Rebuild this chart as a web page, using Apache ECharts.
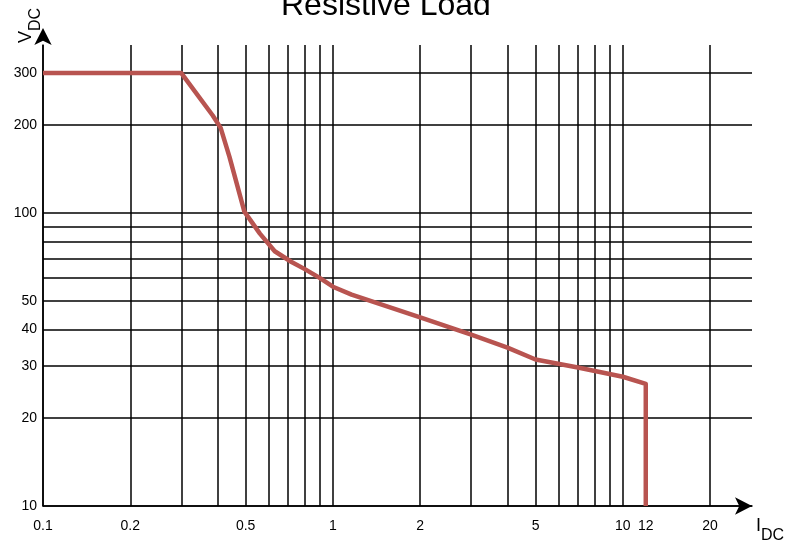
<!DOCTYPE html>
<html><head><meta charset="utf-8">
<script src="https://cdn.jsdelivr.net/npm/echarts@6/dist/echarts.min.js"></script>
<style>html,body{margin:0;padding:0;background:#fff}#c{width:798px;height:547px}</style>
</head><body><div id="c"></div>
<script>
const titleText = 'Resistive Load';
const idc = [0.1, 0.3, 0.385, 0.41, 0.44, 0.495, 0.56, 0.63, 0.72, 0.8, 0.9, 1.0, 1.16, 2, 3, 4, 5, 7, 10, 12, 12];
const vdc = [300, 300, 215, 195, 155, 101, 85, 74, 68, 64.3, 60, 56, 52.6, 44, 38.4, 34.7, 31.6, 29.7, 27.6, 26.1, 10];
const xGridTicks = [0.1, 0.2, 0.3, 0.4, 0.5, 0.6, 0.7, 0.8, 0.9, 1, 2, 3, 4, 5, 6, 7, 8, 9, 10, 20];
const xLabelTicks = [0.1, 0.2, 0.5, 1, 2, 5, 10, 12, 20];
const yGridTicks = [10, 20, 30, 40, 50, 60, 70, 80, 90, 100, 200, 300];
const yLabelTicks = [10, 20, 30, 40, 50, 100, 200, 300];
const xRange = [0.1, 27.9];
const yRange = [10, 374];

const FONT = "'Liberation Sans', Arial, sans-serif";
const fmt = v => String(+(+v).toPrecision(6));
const nameRich = {
  a: {fontFamily: FONT, fontSize: 18, color: '#000', verticalAlign: 'top', lineHeight: 18},
  b: {fontFamily: FONT, fontSize: 16, color: '#000', verticalAlign: 'middle', lineHeight: 38}
};

const chart = echarts.init(document.getElementById('c'), null, {renderer: 'canvas'});
chart.setOption({
  animation: false,
  backgroundColor: '#ffffff',
  title: {
    text: titleText, left: 276, top: -15,
    textStyle: {fontFamily: FONT, fontSize: 32, fontWeight: 'normal', color: '#000'}
  },
  grid: {left: 43, right: 46, top: 45, bottom: 41, containLabel: false, outerBoundsMode: 'none'},
  xAxis: {
    type: 'log', logBase: 10, min: xRange[0], max: xRange[1],
    name: '{a|I}{b|DC}', nameLocation: 'end', nameGap: 4,
    nameTextStyle: {padding: [60, 0, 0, 0], rich: nameRich},
    axisLine: {show: true, onZero: false, symbol: ['none', 'arrow'], symbolSize: [13, 17], symbolOffset: [0, 0],
      lineStyle: {color: '#000', width: 1.5}},
    axisTick: {show: false, customValues: xGridTicks},
    axisLabel: {customValues: xLabelTicks, formatter: fmt, margin: 13, color: '#000', fontFamily: FONT, fontSize: 14},
    splitLine: {show: true, lineStyle: {color: '#000', width: 1.5}},
    minorTick: {show: false}, minorSplitLine: {show: false}
  },
  yAxis: {
    type: 'log', logBase: 10, min: yRange[0], max: yRange[1],
    name: '{a|V}{b|DC}', nameLocation: 'end', nameGap: 2, nameRotate: 90,
    nameTextStyle: {padding: [0, 0, 14, 0], rich: nameRich},
    axisLine: {show: true, onZero: false, symbol: ['none', 'arrow'], symbolSize: [13, 17], symbolOffset: [0, 17],
      lineStyle: {color: '#000', width: 1.5}},
    axisTick: {show: false, customValues: yGridTicks},
    axisLabel: {customValues: yLabelTicks, formatter: fmt, margin: 6, color: '#000', fontFamily: FONT, fontSize: 14},
    splitLine: {show: true, lineStyle: {color: '#000', width: 1.5}},
    minorTick: {show: false}, minorSplitLine: {show: false}
  },
  series: [{
    type: 'line',
    data: idc.map((x, i) => [x, vdc[i]]),
    showSymbol: false, symbol: 'none',
    lineStyle: {color: '#b85450', width: 4.5, cap: 'butt', join: 'round'},
    z: 5
  }]
});
</script>
</body></html>
